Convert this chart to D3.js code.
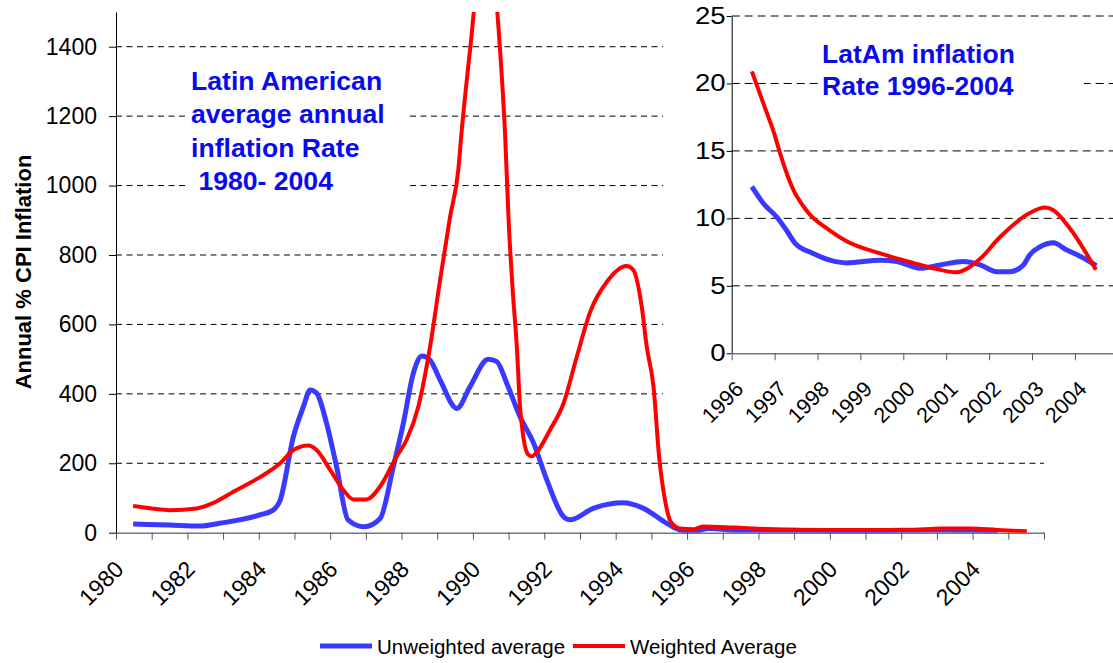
<!DOCTYPE html>
<html lang="en">
  <head>
    <meta charset="utf-8" />
    <title>Latin American inflation</title>
    <script src="https://d3js.org/d3.v7.min.js"></script>
    <style>
      body {
        margin: 0;
        background: #fff;
      }
      text {
        font-family: "Liberation Sans", Arial, sans-serif;
      }
      .grid line {
        stroke: #000;
        stroke-width: 1;
      }
    </style>
  </head>
  <body>
    <svg id="chart"></svg>
    <script>
      // main chart, Annual % CPI inflation
      const unweightedYears = [1980.48, 1981.5, 1982.35, 1982.9, 1984.03, 1984.4, 1984.6, 1984.97, 1985.25, 1985.44, 1985.62, 1985.9, 1986.18, 1986.5, 1986.95, 1987.4, 1987.77, 1988.05, 1988.33, 1988.57, 1988.8, 1989.08, 1989.55, 1989.92, 1990.43, 1990.67, 1990.95, 1991.32, 1991.7, 1992.07, 1992.54, 1992.72, 1993.37, 1994.21, 1994.78, 1995.43, 1995.8, 1996.2, 1996.6, 1997.5, 1999, 2001, 2003, 2004, 2004.7];
      const unweightedValues = [25, 22, 19, 27, 51, 65, 94, 277, 363, 411, 402, 315, 190, 37, 17, 41, 190, 315, 459, 509, 497, 440, 358, 421, 500, 493, 430, 334, 258, 152, 46, 37, 70, 86, 70, 27, 8, 5, 12, 7, 7, 6, 8, 7, 6];

      const weightedYears = [1980.48, 1981.0, 1981.5, 1982.26, 1982.73, 1983.29, 1984.0, 1984.6, 1984.97, 1985.39, 1985.62, 1986.0, 1986.37, 1986.65, 1987.02, 1987.4, 1987.86, 1988.14, 1988.47, 1988.8, 1989.08, 1989.36, 1989.59, 1989.68, 1989.92, 1990.35, 1990.76, 1990.9, 1991.0, 1991.12, 1991.23, 1991.32, 1991.41, 1991.55, 1991.65, 1991.79, 1992.16, 1992.54, 1992.91, 1993.3, 1993.75, 1994.3, 1994.49, 1994.73, 1994.87, 1995.06, 1995.22, 1995.38, 1995.55, 1995.8, 1996.18, 1996.45, 1997.3, 1998.23, 1999.5, 2002.34, 2003.09, 2003.93, 2004.68, 2005.52];
      const weightedValues = [77, 70, 65, 70, 86, 118, 158, 200, 238, 251, 238, 181, 123, 96, 96, 133, 219, 267, 363, 536, 728, 910, 1045, 1151, 1391, 1750, 1391, 1150, 900, 690, 536, 363, 277, 225, 220, 232, 296, 373, 507, 640, 722, 768, 757, 651, 536, 420, 215, 95, 30, 12, 10, 18, 15, 10.7, 8, 8, 12, 12, 8, 4];

      const mainYTicks = [0, 200, 400, 600, 800, 1000, 1200, 1400];
      const mainXLabels = [1980, 1982, 1984, 1986, 1988, 1990, 1992, 1994, 1996, 1998, 2000, 2002, 2004];
      const mainTitle = ["Latin American", "average annual", "inflation Rate", " 1980- 2004"];

      // inset, 1996-2004
      const insetUnweightedYears = [1996.47, 1996.74, 1997.05, 1997.28, 1997.48, 1997.9, 1998.29, 1998.68, 1999.46, 1999.85, 2000.39, 2000.86, 2001.4, 2001.79, 2002.18, 2002.49, 2002.8, 2002.95, 2003.19, 2003.5, 2003.81, 2004.12, 2004.5];
      const insetUnweightedValues = [12.35, 11.1, 10.1, 9.1, 8.15, 7.4, 6.9, 6.7, 6.9, 6.8, 6.3, 6.55, 6.8, 6.55, 6.05, 6.05, 6.55, 7.3, 7.9, 8.2, 7.65, 7.2, 6.5];
      const insetWeightedYears = [1996.47, 1996.74, 1997.01, 1997.13, 1997.44, 1997.67, 1997.79, 1998.29, 1998.68, 1999.46, 2000.23, 2000.7, 2001.24, 2001.55, 2001.79, 2002.25, 2002.95, 2003.3, 2003.5, 2003.85, 2004.49];
      const insetWeightedValues = [20.9, 18.5, 16.1, 14.8, 12.1, 10.9, 10.4, 9.1, 8.3, 7.4, 6.7, 6.3, 6.0, 6.4, 7.0, 8.6, 10.4, 10.8, 10.6, 9.4, 6.2];

      const insetYTicks = [0, 5, 10, 15, 20, 25];
      const insetXLabels = [1996, 1997, 1998, 1999, 2000, 2001, 2002, 2003, 2004];
      const insetTitle = ["LatAm inflation", "Rate 1996-2004"];

      const legendItems = ["Unweighted average", "Weighted Average"];

      const blue = "#3a3aff";
      const red = "#ff0000";
      const titleBlue = "#0a0af0";

      const W = 1113;
      const H = 663;
      const svg = d3.select("#chart").attr("width", W).attr("height", H);
      svg.append("rect").attr("width", W).attr("height", H).attr("fill", "#fff");

      const pairs = (xs, ys) => xs.map((x, i) => [x, ys[i]]);

      // ---------- main chart ----------
      const x = d3.scaleLinear().domain([1980, 2006]).range([116, 1044]);
      const y = d3.scaleLinear().domain([0, 1500]).range([532.7, 12]);

      svg
        .append("clipPath")
        .attr("id", "mainClip")
        .append("rect")
        .attr("x", 116)
        .attr("y", 12)
        .attr("width", 1044 - 116)
        .attr("height", 532.7 - 12);

      svg
        .append("g")
        .attr("class", "grid")
        .selectAll("line")
        .data(mainYTicks.filter((d) => d > 0))
        .join("line")
        .attr("x1", 116)
        .attr("x2", 1044)
        .attr("y1", (d) => y(d))
        .attr("y2", (d) => y(d))
        .attr("stroke-dasharray", "6,4.5");

      const gy = svg
        .append("g")
        .attr("transform", "translate(116,0)")
        .call(
          d3.axisLeft(y).tickValues(mainYTicks).tickFormat(d3.format("d")).tickSize(7).tickSizeOuter(0).tickPadding(12)
        );
      gy.select(".domain").attr("stroke", "#000");
      gy.selectAll(".tick line").attr("stroke", "#000");
      gy.selectAll("text").attr("font-size", 23).attr("fill", "#000").attr("font-family", "Liberation Sans");

      const gx = svg
        .append("g")
        .attr("transform", "translate(0,532.7)")
        .call(d3.axisBottom(x).tickValues(d3.range(1980, 2007)).tickSize(7).tickSizeOuter(0).tickFormat(""));
      gx.select(".domain").attr("stroke", "#777").attr("stroke-width", 1.5);
      gx.selectAll(".tick line").attr("stroke", "#555");

      svg
        .append("g")
        .selectAll("text")
        .data(mainXLabels)
        .join("text")
        .attr("transform", (d) => `translate(${x(d) + 9},${532.7 + 38}) rotate(-45)`)
        .attr("text-anchor", "end")
        .attr("font-size", 23)
        .attr("fill", "#000")
        .text((d) => d);

      svg
        .append("text")
        .attr("transform", "translate(31,272) rotate(-90)")
        .attr("text-anchor", "middle")
        .attr("font-size", 22)
        .attr("font-weight", "bold")
        .attr("fill", "#000")
        .text("Annual % CPI Inflation");

      const line = d3
        .line()
        .x((d) => x(d[0]))
        .y((d) => y(d[1]))
        .curve(d3.curveMonotoneX);

      const mainLines = svg.append("g").attr("clip-path", "url(#mainClip)");
      mainLines
        .append("path")
        .attr("d", line(pairs(unweightedYears, unweightedValues)))
        .attr("fill", "none")
        .attr("stroke", blue)
        .attr("stroke-width", 5)
        .attr("stroke-linejoin", "round");
      mainLines
        .append("path")
        .attr("d", line(pairs(weightedYears, weightedValues)))
        .attr("fill", "none")
        .attr("stroke", red)
        .attr("stroke-width", 4)
        .attr("stroke-linejoin", "round");

      // title box (white behind the text hides the grid)
      svg.append("rect").attr("x", 186).attr("y", 58).attr("width", 222).attr("height", 168).attr("fill", "#fff");
      svg
        .append("g")
        .selectAll("text")
        .data(mainTitle)
        .join("text")
        .attr("x", 191)
        .attr("y", (d, i) => 90 + i * 33.4)
        .attr("font-size", 26.6)
        .attr("font-weight", "bold")
        .attr("fill", titleBlue)
        .style("white-space", "pre")
        .text((d) => d);

      // ---------- inset ----------
      const ix = d3.scaleLinear().domain([1996, 2005]).range([731.7, 1117.8]);
      const iy = d3.scaleLinear().domain([0, 25]).range([353.3, 16]);

      svg.append("rect").attr("x", 663).attr("y", 0).attr("width", W - 663).attr("height", 440).attr("fill", "#fff");

      svg
        .append("g")
        .attr("class", "grid")
        .selectAll("line")
        .data(insetYTicks.filter((d) => d > 0))
        .join("line")
        .attr("x1", 731.7)
        .attr("x2", W)
        .attr("y1", (d) => iy(d))
        .attr("y2", (d) => iy(d))
        .attr("stroke-dasharray", "8,5");

      const igy = svg
        .append("g")
        .attr("transform", "translate(731.7,0)")
        .call(d3.axisLeft(iy).tickValues(insetYTicks).tickSize(5).tickSizeOuter(0).tickPadding(0));
      igy.select(".domain").attr("stroke", "#000");
      igy.selectAll(".tick line").attr("stroke", "#000");
      // the inset picture is stretched sideways, so are its labels
      igy
        .selectAll("text")
        .attr("font-size", 23)
        .attr("fill", "#000")
        .attr("font-family", "Liberation Sans")
        .attr("transform", "scale(1.2,1)");

      const igx = svg
        .append("g")
        .attr("transform", "translate(0,353.3)")
        .call(d3.axisBottom(ix).tickValues(d3.range(1996, 2006)).tickSize(7).tickSizeOuter(0).tickFormat(""));
      igx.select(".domain").attr("stroke", "#777").attr("stroke-width", 1.5);
      igx.selectAll(".tick line").attr("stroke", "#555");

      svg
        .append("g")
        .selectAll("text")
        .data(insetXLabels)
        .join("text")
        .attr("transform", (d) => `translate(${ix(d) + 13},${353.3 + 37}) rotate(-45)`)
        .attr("text-anchor", "end")
        .attr("font-size", 21.5)
        .attr("fill", "#000")
        .text((d) => d);

      const iline = d3
        .line()
        .x((d) => ix(d[0]))
        .y((d) => iy(d[1]))
        .curve(d3.curveMonotoneX);

      svg
        .append("path")
        .attr("d", iline(pairs(insetUnweightedYears, insetUnweightedValues)))
        .attr("fill", "none")
        .attr("stroke", blue)
        .attr("stroke-width", 5)
        .attr("stroke-linejoin", "round");
      svg
        .append("path")
        .attr("d", iline(pairs(insetWeightedYears, insetWeightedValues)))
        .attr("fill", "none")
        .attr("stroke", red)
        .attr("stroke-width", 4)
        .attr("stroke-linejoin", "round");

      svg.append("rect").attr("x", 818).attr("y", 32).attr("width", 266).attr("height", 74).attr("fill", "#fff");
      svg
        .append("g")
        .selectAll("text")
        .data(insetTitle)
        .join("text")
        .attr("x", 822)
        .attr("y", (d, i) => 63.3 + i * 32)
        .attr("font-size", 26.5)
        .attr("font-weight", "bold")
        .attr("fill", titleBlue)
        .text((d) => d);

      // ---------- legend ----------
      const legendX = [320, 573];
      const legend = svg
        .append("g")
        .selectAll("g")
        .data(legendItems)
        .join("g")
        .attr("transform", (d, i) => `translate(${legendX[i]},646)`);
      legend
        .append("line")
        .attr("x1", 0)
        .attr("x2", 52)
        .attr("stroke", (d, i) => (i === 0 ? blue : red))
        .attr("stroke-width", (d, i) => (i === 0 ? 5 : 4));
      legend
        .append("text")
        .attr("x", 57)
        .attr("y", 7.5)
        .attr("font-size", 20.5)
        .attr("fill", "#000")
        .text((d) => d);
    </script>
  </body>
</html>
